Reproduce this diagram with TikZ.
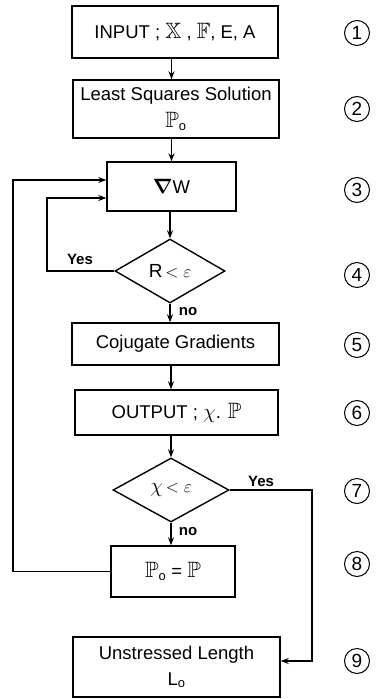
\documentclass[tikz,border=0pt]{standalone}
\usepackage{amssymb,bm}
\usepackage{fontspec}
\setmainfont{Liberation Sans}
\usetikzlibrary{shapes.geometric,arrows.meta}
\newcommand{\bbP}{\scalebox{1.2}{$\mathbb{P}$}}
\begin{document}
\begin{tikzpicture}[x=1pt,y=-1pt,
  box/.style={draw,line width=1.4pt,rectangle,inner sep=0pt,font=\fontsize{18.5}{26}\selectfont,align=center},
  dia/.style={draw,line width=1.4pt,diamond,inner sep=0pt,font=\fontsize{19}{21}\selectfont},
  flow/.style={line width=1.4pt,-{Stealth[length=8pt,width=6pt]}},
  lab/.style={font=\fontsize{15}{17}\selectfont\bfseries,inner sep=1pt},
  num/.style={draw,circle,line width=1pt,minimum size=25pt,inner sep=0pt,font=\fontsize{19}{20}\selectfont}]
\useasboundingbox (0,0) rectangle (380,699);
\node[box,minimum width=206,minimum height=52] (b1) at (175,32) {INPUT ; \scalebox{1.2}{$\mathbb{X}$} , \scalebox{1.2}{$\mathbb{F}$}, E, A};
\node[box,minimum width=206,minimum height=58] (b2) at (176,109) {Least Squares Solution\\[1pt]\bbP$_{\mathrm{o}}$};
\node[box,minimum width=129,minimum height=49] (b3) at (171.5,186.5) {\scalebox{1.2}{$\bm{\nabla}$}W};
\node[dia,minimum width=110,minimum height=64] (d1) at (170,271) {R$\,<\varepsilon$};
\node[box,minimum width=207,minimum height=42] (b5) at (175.5,344) {Cojugate Gradients};
\node[box,minimum width=203,minimum height=45] (b6) at (176.5,412.5) {OUTPUT ; \scalebox{1.2}{$\chi$}. \bbP};
\node[dia,minimum width=116,minimum height=64] (d2) at (171,490) {\scalebox{1.2}{$\chi$}$\,<\varepsilon$};
\node[box,minimum width=124,minimum height=51] (b8) at (173,571.5) {\bbP$_{\mathrm{o}}$ = \bbP};
\node[box,minimum width=207,minimum height=60] (b9) at (176.5,667) {Unstressed Length\\L$_{\mathrm{o}}$};
\coordinate (col) at (171.5,0);
\coordinate (ol) at (13,0);
\coordinate (il) at (47,0);
\coordinate (rl) at (312,0);
\draw[flow] (b1.south -| col) -- (b2.north -| col);
\draw[flow] (b2.south -| col) -- (b3.north -| col);
\draw[flow] (b3.south -| d1.north) -- (d1.north);
\draw[flow] (d1.south) -- (b5.north -| d1.south);
\draw[flow] (b5.south -| d2.north) -- (b6.north -| d2.north);
\draw[flow] (b6.south -| d2.north) -- (d2.north);
\draw[flow] (d2.south) -- (b8.north -| d2.south);
\draw[flow] (b8.west) -- (b8.west -| ol) |- ([yshift=6.5pt]b3.west);
\draw[flow] (d1.west) -- (d1.west -| il) |- ([yshift=-11.5pt]b3.west);
\draw[flow] (d2.east) -- (d2.east -| rl) |- ([yshift=6pt]b9.east);
\node[lab] (y1) at (80,259) {Yes};
\node[lab] (y2) at (261,481) {Yes};
\node[lab] (n1) at (188,312) {no};
\node[lab] (n2) at (188,532) {no};
\node[num] (c1) at (357,33) {1};
\node[num] (c2) at (357,109) {2};
\node[num] (c3) at (357,190) {3};
\node[num] (c4) at (357,275) {4};
\node[num] (c5) at (357,345) {5};
\node[num] (c6) at (357,413) {6};
\node[num] (c7) at (357,491) {7};
\node[num] (c8) at (357,564) {8};
\node[num] (c9) at (357,661) {9};
\end{tikzpicture}
\end{document}
